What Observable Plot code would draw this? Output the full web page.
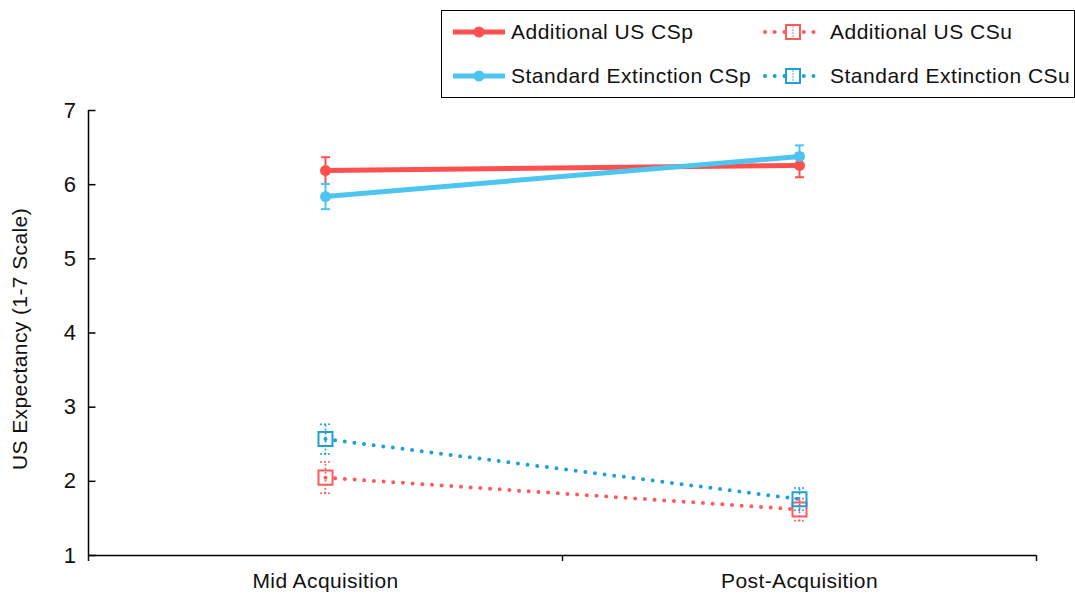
<!DOCTYPE html>
<html>
<head>
<meta charset="utf-8">
<script src="https://cdn.jsdelivr.net/npm/d3@7"></script>
<script src="https://cdn.jsdelivr.net/npm/@observablehq/plot@0.6"></script>
<style>
  body { margin: 0; background: #fff; font-family: "Liberation Sans", Arial, sans-serif; }
  #wrap { position: relative; width: 1075px; height: 594px; }
  #legend { position: absolute; left: 441px; top: 10px; width: 634px; height: 88px; border: 1.5px solid #000; box-sizing: border-box; }
  .item { position: absolute; display: flex; align-items: center; height: 24px; font-size: 21px; letter-spacing: 0.5px; color: #111; white-space: nowrap; }
  .item svg { margin-right: 5px; }
</style>
</head>
<body>
<div id="wrap"><div id="legend"></div></div>
<script>
const phases = ["Mid Acquisition", "Post-Acquisition"];
const seriesNames = ["Additional US CSp", "Additional US CSu", "Standard Extinction CSp", "Standard Extinction CSu"];
const seriesColors = ["#FF4F4F", "#FF5A5A", "#4CC6F0", "#1D9FD9"];
const seriesDotted = [false, true, false, true];
const additionalCSp = [6.19, 6.26];
const additionalCSpErr = [0.18, 0.16];
const additionalCSu = [2.05, 1.62];
const additionalCSuErr = [0.21, 0.15];
const standardCSp = [5.84, 6.38];
const standardCSpErr = [0.17, 0.15];
const standardCSu = [2.57, 1.76];
const standardCSuErr = [0.20, 0.15];
const yTicks = [1, 2, 3, 4, 5, 6, 7];
const yLabel = "US Expectancy (1-7 Scale)";

const values = [additionalCSp, additionalCSu, standardCSp, standardCSu];
const errors = [additionalCSpErr, additionalCSuErr, standardCSpErr, standardCSuErr];
const drawOrder = [1, 3, 0, 2];

const rows = s => phases.map((p, i) => ({series: seriesNames[s], x: i + 0.5, v: values[s][i], e: errors[s][i]}));

const hline = { draw(ctx, size) { const r = Math.sqrt(size / Math.PI); ctx.moveTo(-r, 0); ctx.lineTo(r, 0); } };

const marks = [];
for (const s of drawOrder) {
  const data = rows(s);
  const c = seriesColors[s];
  const dotted = seriesDotted[s];
  const eb = dotted ? {strokeDasharray: "0 4", strokeLinecap: "round", strokeWidth: 2} : {strokeWidth: 2};
  marks.push(Plot.ruleX(data, {x: "x", y1: d => d.v - d.e, y2: d => d.v + d.e, stroke: c, ...eb}));
  marks.push(Plot.dot(data, {x: "x", y: d => d.v + d.e, symbol: hline, r: 4.5, stroke: c, ...eb}));
  marks.push(Plot.dot(data, {x: "x", y: d => d.v - d.e, symbol: hline, r: 4.5, stroke: c, ...eb}));
}
for (const s of drawOrder) {
  const data = rows(s);
  const c = seriesColors[s];
  if (seriesDotted[s]) {
    marks.push(Plot.line(data, {x: "x", y: "v", stroke: c, strokeWidth: 4, strokeDasharray: "0 9.7", strokeLinecap: "round"}));
    marks.push(Plot.dot(data, {x: "x", y: "v", symbol: "square", r: 7.9, stroke: c, strokeWidth: 2, fill: "none"}));
  } else {
    marks.push(Plot.line(data, {x: "x", y: "v", stroke: c, strokeWidth: 5}));
    marks.push(Plot.dot(data, {x: "x", y: "v", r: 5.5, fill: c, stroke: "none"}));
  }
}

const chart = Plot.plot({
  width: 1075,
  height: 594,
  marginTop: 110,
  marginBottom: 39,
  marginLeft: 88,
  marginRight: 39,
  style: {fontFamily: "Liberation Sans, Arial, sans-serif", fontSize: "21px", color: "#111", letterSpacing: "0.4px"},
  x: {domain: [0, phases.length], axis: null},
  y: {domain: [1, 7], axis: null},
  marks: [
    Plot.axisY(yTicks, {anchor: "left", tickSize: 0, tickPadding: 12, fontSize: 22, tickFormat: d => String(d), label: null}),
    Plot.dot(yTicks, {x: 0, y: d => d, symbol: hline, r: 3.5, dx: 3.5, stroke: "#000", strokeWidth: 1.5}),
    Plot.axisX({anchor: "bottom", ticks: d3.range(phases.length + 1), tickFormat: () => "", tickSize: 6, strokeWidth: 1.5, label: null}),
    Plot.axisX({anchor: "bottom", ticks: phases.map((p, i) => i + 0.5), tickFormat: (d) => phases[Math.floor(d)], tickSize: 0, tickPadding: 18, fontSize: 21, label: null}),
    Plot.ruleY([1], {stroke: "#000", strokeWidth: 1.5}),
    Plot.ruleX([0], {stroke: "#000", strokeWidth: 1.5}),
    Plot.text([yLabel], {frameAnchor: "left", rotate: -90, textAnchor: "middle", dx: -68, dy: 6, fontSize: 21, text: d => d}),
    ...marks
  ]
});
document.getElementById("wrap").prepend(chart);

// legend
const legend = document.getElementById("legend");
const legendPos = [[10, 21], [319, 21], [10, 65], [319, 65]];
seriesNames.forEach((name, s) => {
  const div = document.createElement("div");
  div.className = "item";
  div.style.left = legendPos[s][0] + "px";
  div.style.top = (legendPos[s][1] - 12) + "px";
  const c = seriesColors[s];
  const w = seriesDotted[s] ? 64 : 54;
  let sym;
  if (seriesDotted[s]) {
    sym = `<svg width="${w}" height="24"><line x1="4" y1="12" x2="${w-4}" y2="12" stroke="${c}" stroke-width="4" stroke-dasharray="0 9.7" stroke-linecap="round"/>` +
      `<rect x="${w/2-7}" y="5" width="14" height="14" fill="#fff" stroke="${c}" stroke-width="2"/>` +
      `<line x1="${w/2}" y1="7" x2="${w/2}" y2="17" stroke="${c}" stroke-width="1.5" stroke-dasharray="0 3" stroke-linecap="round"/></svg>`;
  } else {
    sym = `<svg width="${w}" height="24"><line x1="1" y1="12" x2="${w-1}" y2="12" stroke="${c}" stroke-width="5"/>` +
      `<circle cx="${w/2}" cy="12" r="5.5" fill="${c}"/></svg>`;
  }
  div.innerHTML = sym + `<span>${name}</span>`;
  legend.appendChild(div);
});
</script>
</body>
</html>
